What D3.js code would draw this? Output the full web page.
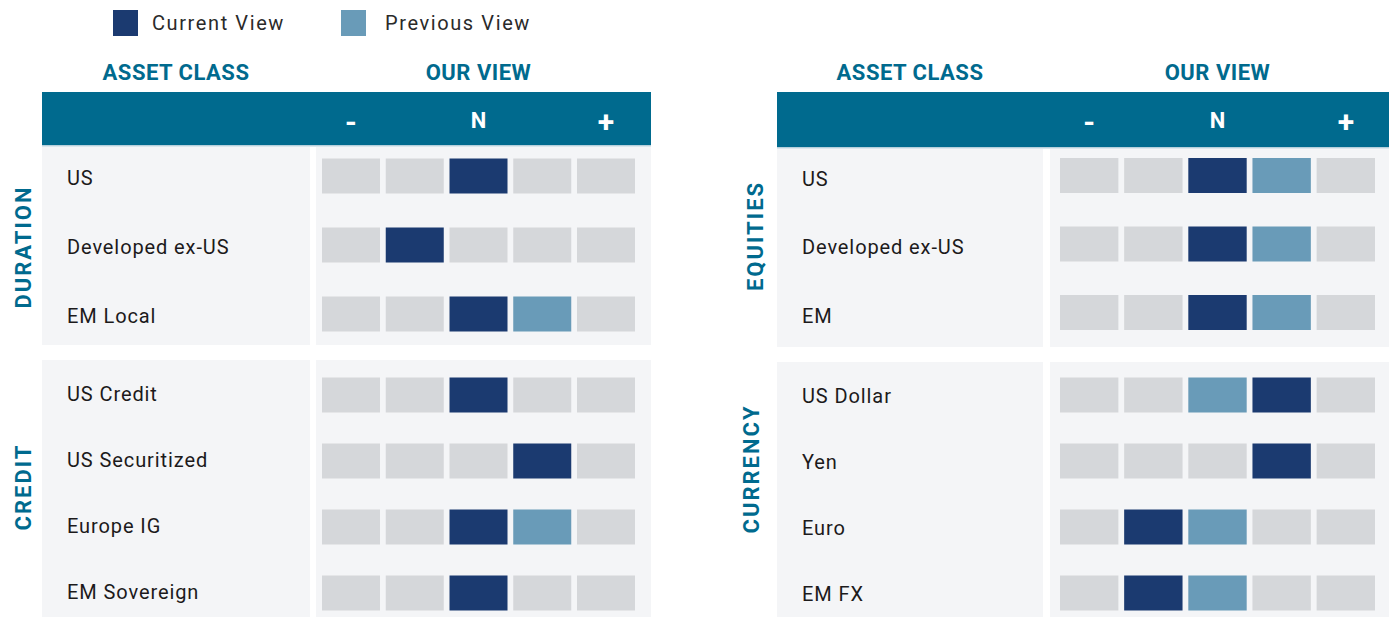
<!DOCTYPE html>
<html><head><meta charset="utf-8">
<script src="https://cdn.jsdelivr.net/npm/d3@7"></script>
<style>
body{margin:0;background:#fff;}
svg{display:block;font-family:Roboto, "DejaVu Sans", sans-serif;}
</style></head>
<body>
<svg id="c" width="1392" height="618"></svg>
<script>
// ---- data ----
const levels = ["-2","-1","N","+1","+2"];
const levelLabels = ["-","N","+"]; // shown on columns 0, 2, 4
const legendLabels = ["Current View","Previous View"];

const durationAssets = ["US","Developed ex-US","EM Local"];
const durationCurrent = [2,1,2];
const durationPrevious = [null,null,3];

const creditAssets = ["US Credit","US Securitized","Europe IG","EM Sovereign"];
const creditCurrent = [2,3,2,2];
const creditPrevious = [null,null,3,null];

const equityAssets = ["US","Developed ex-US","EM"];
const equityCurrent = [2,2,2];
const equityPrevious = [3,3,3];

const currencyAssets = ["US Dollar","Yen","Euro","EM FX"];
const currencyCurrent = [3,3,1,1];
const currencyPrevious = [2,null,2,2];

// ---- style ----
const C = {teal:"#006a8e", dark:"#1b3a70", light:"#699bb8", grey:"#d5d7da", panel:"#f4f5f7", text:"#1c1a1b"};

const svg = d3.select("#c");

// legend
const legend = svg.append("g");
[C.dark, C.light].forEach((col,i)=>{
  const x0 = i===0 ? 113 : 341;
  legend.append("rect").attr("x",x0).attr("y",10).attr("width",25).attr("height",26).attr("fill",col);
  legend.append("text").attr("x",i===0?152:385).attr("y",30).text(legendLabels[i])
    .attr("font-size",20).attr("fill","#2a2a2a").attr("letter-spacing",1.6).attr("font-weight",400);
});

function side(cfg){
  const g = svg.append("g");
  const x = d3.scaleBand().domain(levels).range([cfg.gx0+cfg.pl, cfg.gx1-cfg.pr]).paddingInner(0.09);
  // headers
  g.append("text").attr("x",(cfg.lx0+cfg.lx1)/2).attr("y",80).attr("text-anchor","middle")
    .attr("font-size",22).attr("font-weight",700).attr("fill",C.teal).attr("letter-spacing",0.5)
    .text("ASSET CLASS");
  g.append("text").attr("x",x("N")+x.bandwidth()/2).attr("y",80).attr("text-anchor","middle")
    .attr("font-size",22).attr("font-weight",700).attr("fill",C.teal).attr("letter-spacing",0.5)
    .text("OUR VIEW");
  g.append("rect").attr("x",cfg.lx0).attr("y",92).attr("width",cfg.gx1-cfg.lx0).attr("height",cfg.barH).attr("fill",C.teal);
  g.append("rect").attr("x",cfg.lx0).attr("y",92+cfg.barH).attr("width",cfg.gx1-cfg.lx0).attr("height",1.5).attr("fill","#b6d0dc");
  [levels[0],levels[2],levels[4]].forEach((lv,i)=>{
    g.append("text").attr("x",x(lv)+x.bandwidth()/2).attr("y",i===1?128:132).attr("text-anchor","middle")
      .attr("font-size",i===1?22:30).attr("font-weight",700).attr("fill","#fff").text(levelLabels[i]);
  });
  cfg.groups.forEach(grp=>{
    g.append("rect").attr("x",cfg.lx0).attr("y",grp.y0).attr("width",cfg.lx1-cfg.lx0).attr("height",grp.y1-grp.y0).attr("fill",C.panel);
    g.append("rect").attr("x",cfg.gx0).attr("y",grp.y0).attr("width",cfg.gx1-cfg.gx0).attr("height",grp.y1-grp.y0).attr("fill",C.panel);
    const y = d3.scalePoint().domain(grp.assets).range([grp.c0, grp.c1]);
    const h = 35;
    grp.assets.forEach((a,i)=>{
      g.append("text").attr("x",cfg.lx0+25).attr("y",y(a)+grp.tdy).attr("dy","0.35em")
        .attr("font-size",20).attr("font-weight",400).attr("fill",C.text).attr("letter-spacing",0.9).text(a);
      levels.forEach((lv,j)=>{
        let fill = C.grey;
        if (grp.cur[i]===j) fill = C.dark; else if (grp.prev[i]===j) fill = C.light;
        g.append("rect").attr("x",x(lv)).attr("y",y(a)-h/2).attr("width",x.bandwidth()).attr("height",h).attr("fill",fill);
      });
    });
    g.append("text").attr("transform",`translate(${grp.catX},${grp.catY}) rotate(-90)`)
      .attr("text-anchor","middle").attr("dy","0.35em").attr("font-size",22).attr("font-weight",700)
      .attr("letter-spacing",2).attr("fill",C.teal).text(grp.name);
  });
}

side({lx0:42, lx1:310, gx0:316, gx1:651, pl:6, pr:16, barH:53, groups:[
  {name:"DURATION", y0:147, y1:345, c0:176, c1:314, tdy:2, catX:23, catY:247, assets:durationAssets, cur:durationCurrent, prev:durationPrevious},
  {name:"CREDIT", y0:360, y1:617, c0:395, c1:593, tdy:-1, catX:23, catY:487, assets:creditAssets, cur:creditCurrent, prev:creditPrevious}
]});
side({lx0:777, lx1:1043, gx0:1050, gx1:1389, pl:10, pr:14, barH:55, groups:[
  {name:"EQUITIES", y0:149, y1:347, c0:175.5, c1:312.5, tdy:3, catX:755, catY:236, assets:equityAssets, cur:equityCurrent, prev:equityPrevious},
  {name:"CURRENCY", y0:362, y1:617, c0:395, c1:593, tdy:1, catX:751, catY:469, assets:currencyAssets, cur:currencyCurrent, prev:currencyPrevious}
]});
</script>
</body></html>
